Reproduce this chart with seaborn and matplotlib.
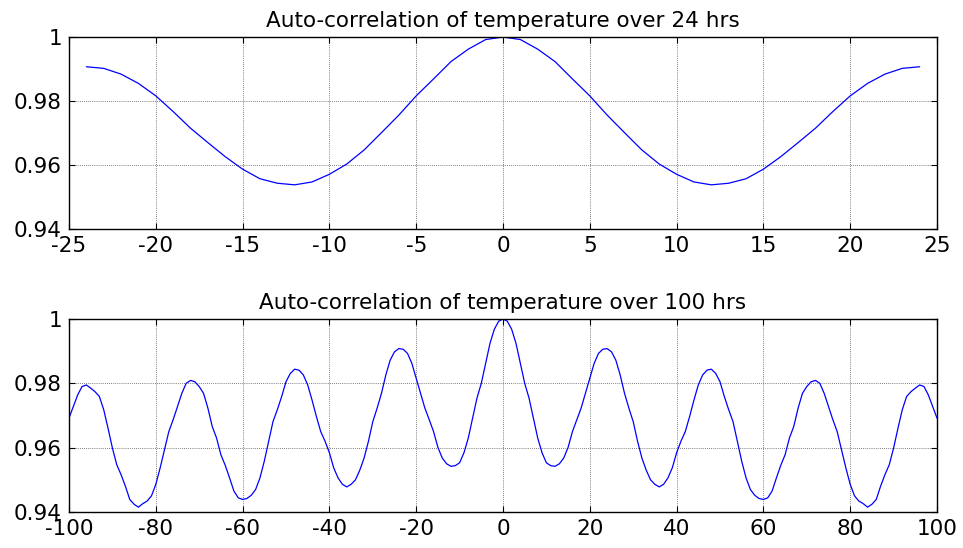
import matplotlib
matplotlib.use("Agg")
import matplotlib.pyplot as plt
import seaborn as sns
import pandas as pd
import numpy as np

# ---- data ----
lags24 = list(range(-24, 25))
acf24 = [0.9907, 0.9902, 0.9884, 0.9855, 0.9816, 0.9767, 0.9715, 0.9670, 0.9626, 0.9587,
         0.9557, 0.9543, 0.9538, 0.9547, 0.9571, 0.9603, 0.9647, 0.9701, 0.9756, 0.9816,
         0.9869, 0.9923, 0.9962, 0.9992,
         1.0000,
         0.9992, 0.9962, 0.9923, 0.9869, 0.9816, 0.9756, 0.9701, 0.9647, 0.9603, 0.9571,
         0.9547, 0.9538, 0.9543, 0.9557, 0.9587, 0.9626, 0.9670, 0.9715, 0.9767, 0.9816,
         0.9855, 0.9884, 0.9902, 0.9907]

lags100 = list(range(-100, 101))
acf100 = [
    0.9692, 0.9728, 0.9764, 0.9790, 0.9795, 0.9785, 0.9774, 0.9759, 0.9718, 0.9660,
    0.9599, 0.9547, 0.9516, 0.9480, 0.9439, 0.9424, 0.9415, 0.9426, 0.9434, 0.9450,
    0.9486, 0.9537, 0.9594, 0.9650, 0.9687, 0.9728, 0.9769, 0.9800, 0.9809, 0.9805,
    0.9790, 0.9769, 0.9723, 0.9666, 0.9630, 0.9578, 0.9545, 0.9506, 0.9465, 0.9444,
    0.9439, 0.9442, 0.9452, 0.9470, 0.9506, 0.9558, 0.9620, 0.9681, 0.9718, 0.9759,
    0.9805, 0.9831, 0.9844, 0.9841, 0.9826, 0.9795, 0.9748, 0.9697, 0.9650, 0.9620,
    0.9584, 0.9537, 0.9506, 0.9486, 0.9478, 0.9486, 0.9500, 0.9530, 0.9568, 0.9620,
    0.9681, 0.9723, 0.9769, 0.9826, 0.9872, 0.9898, 0.9908, 0.9906, 0.9893, 0.9862,
    0.9815, 0.9769, 0.9723, 0.9687, 0.9650, 0.9601, 0.9568, 0.9550, 0.9542, 0.9544,
    0.9553, 0.9584, 0.9630, 0.9692, 0.9754, 0.9800, 0.9862, 0.9924, 0.9968, 0.9993,
    1.0000,
    0.9993, 0.9968, 0.9924, 0.9862, 0.9800, 0.9754, 0.9692, 0.9630, 0.9584, 0.9553,
    0.9544, 0.9542, 0.9550, 0.9568, 0.9601, 0.9650, 0.9687, 0.9723, 0.9769, 0.9815,
    0.9862, 0.9893, 0.9906, 0.9908, 0.9898, 0.9872, 0.9826, 0.9769, 0.9723, 0.9681,
    0.9620, 0.9568, 0.9530, 0.9500, 0.9486, 0.9478, 0.9486, 0.9506, 0.9537, 0.9584,
    0.9620, 0.9650, 0.9697, 0.9748, 0.9795, 0.9826, 0.9841, 0.9844, 0.9831, 0.9805,
    0.9759, 0.9718, 0.9681, 0.9620, 0.9558, 0.9506, 0.9470, 0.9452, 0.9442, 0.9439,
    0.9444, 0.9465, 0.9506, 0.9545, 0.9578, 0.9630, 0.9666, 0.9723, 0.9769, 0.9790,
    0.9805, 0.9809, 0.9800, 0.9769, 0.9728, 0.9687, 0.9650, 0.9594, 0.9537, 0.9486,
    0.9450, 0.9434, 0.9426, 0.9415, 0.9424, 0.9439, 0.9480, 0.9516, 0.9547, 0.9599,
    0.9660, 0.9718, 0.9759, 0.9774, 0.9785, 0.9795, 0.9790, 0.9764, 0.9728, 0.9692]

titles = ["Auto-correlation of temperature over 24 hrs",
          "Auto-correlation of temperature over 100 hrs"]
xticks24 = [-25, -20, -15, -10, -5, 0, 5, 10, 15, 20, 25]
xticks100 = [-100, -80, -60, -40, -20, 0, 20, 40, 60, 80, 100]
yticks = [0.94, 0.96, 0.98, 1.0]
ytick_labels = ["0.94", "0.96", "0.98", "1"]

sns.set_theme(style="white")
plt.rcParams['font.family'] = ['DejaVu Sans']

fig = plt.figure(figsize=(9.63, 5.48), dpi=100)
ax1 = fig.add_axes([69/963, 1 - 229/548, (937-69)/963, (229-37)/548])
ax2 = fig.add_axes([69/963, 1 - 512/548, (937-69)/963, (512-319)/548])

df1 = pd.DataFrame({"lag": lags24, "acf": acf24})
df2 = pd.DataFrame({"lag": lags100, "acf": acf100})

for ax, df, xt, xl, title in [(ax1, df1, xticks24, (-25, 25), titles[0]),
                              (ax2, df2, xticks100, (-100, 100), titles[1])]:
    sns.lineplot(data=df, x="lag", y="acf", ax=ax, color=(0, 0, 1), linewidth=0.9)
    ax.set_xlim(*xl)
    ax.set_ylim(0.94, 1.0)
    ax.set_xticks(xt)
    ax.set_xticklabels([str(v) for v in xt])
    ax.set_yticks(yticks)
    ax.set_yticklabels(ytick_labels)
    ax.set_xlabel("")
    ax.set_ylabel("")
    ax.set_title(title, fontsize=15.5, pad=7, color="black")
    ax.grid(True, color="#555555", linestyle=(0, (1, 1.5)), linewidth=0.6)
    ax.tick_params(axis="both", which="both", direction="in", length=4, width=0.8,
                   top=True, right=True, bottom=True, left=True,
                   labelsize=15.5, colors="black", pad=5)
    for s in ax.spines.values():
        s.set_color("black")
        s.set_linewidth(1.0)
    ax.set_facecolor("white")

fig.patch.set_facecolor("white")
fig.savefig("out.png", dpi=100, facecolor="white")
